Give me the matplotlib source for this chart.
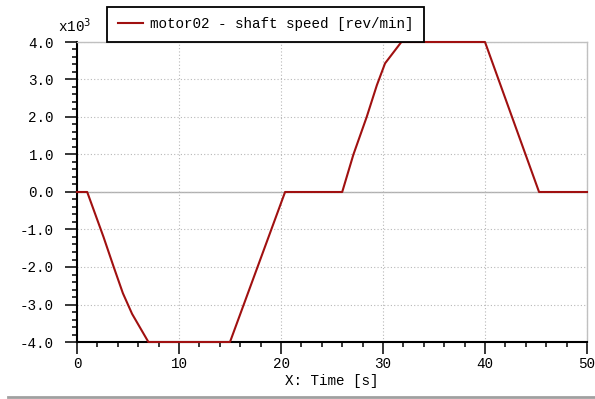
import matplotlib.pyplot as plt
from matplotlib.lines import Line2D
from matplotlib.ticker import MultipleLocator, FuncFormatter

# motor02 shaft speed profile over the run
time_s = [0, 1.0, 2.6, 3.6, 4.5, 5.4, 7.0, 15.0, 20.4, 26.0, 27.1, 28.4,
          29.4, 30.2, 31.8, 40.0, 45.3, 50]
speed_rpm = [0, 0, -1200, -2000, -2700, -3250, -4000, -4000, 0, 0, 1000, 2000,
             2850, 3430, 4000, 4000, 0, 0]

mono = "Liberation Mono"

fig = plt.figure(figsize=(5.95, 3.99), dpi=100)
ax = fig.add_axes([77 / 595, 1 - 342 / 399, 510 / 595, 300 / 399])

# grid and zero line
ax.grid(True, which="major", color="#b8b8b8", linestyle=(0, (1, 2)), linewidth=0.8)
ax.axhline(0, color="#b0b0b0", linewidth=1.0, zorder=1)

line, = ax.plot(time_s, speed_rpm, color="#a01010", linewidth=1.5,
                label="motor02 - shaft speed [rev/min]", clip_on=False, zorder=3)

ax.set_xlim(0, 50)
ax.set_ylim(-4000, 4000)
ax.xaxis.set_major_locator(MultipleLocator(10))
ax.xaxis.set_minor_locator(MultipleLocator(2))
ax.yaxis.set_major_locator(MultipleLocator(1000))
ax.yaxis.set_minor_locator(MultipleLocator(200))
ax.yaxis.set_major_formatter(FuncFormatter(lambda v, p: f"{v / 1000:.1f}"))

ax.tick_params(which="major", direction="out", length=8.6, width=1.1, color="black",
               labelsize=10.3, pad=2)
ax.tick_params(which="minor", direction="out", length=3.8, width=1.1, color="black")
ax.tick_params(axis="y", which="major", pad=8)
for lbl in ax.get_xticklabels() + ax.get_yticklabels():
    lbl.set_fontfamily(mono)

for side in ["left", "bottom"]:
    ax.spines[side].set_color("black")
    ax.spines[side].set_linewidth(1.5)
for side in ["top", "right"]:
    ax.spines[side].set_color("#c0c0c0")
    ax.spines[side].set_linewidth(1.0)

ax.set_xlabel("X: Time [s]", fontfamily=mono, fontsize=10.3, labelpad=2)

# scale factor above the y axis
ax.text(-0.037, 1.033, r"x10$^3$", transform=ax.transAxes, fontfamily=mono,
        fontsize=10.3, ha="left", va="baseline")

leg = ax.legend(loc="lower left", bbox_to_anchor=(0.0588, 1.0), borderaxespad=0,
                prop={"family": mono, "size": 10.3}, fancybox=False,
                edgecolor="black", framealpha=1, handlelength=1.8,
                handletextpad=0.45, borderpad=0.75)
leg.get_frame().set_linewidth(1.3)

# separator line along the bottom
fig.add_artist(Line2D([8 / 595, 1], [2.5 / 399, 2.5 / 399], transform=fig.transFigure,
                      color="#a0a0a0", linewidth=2))

fig.savefig("out.png", dpi=100)
